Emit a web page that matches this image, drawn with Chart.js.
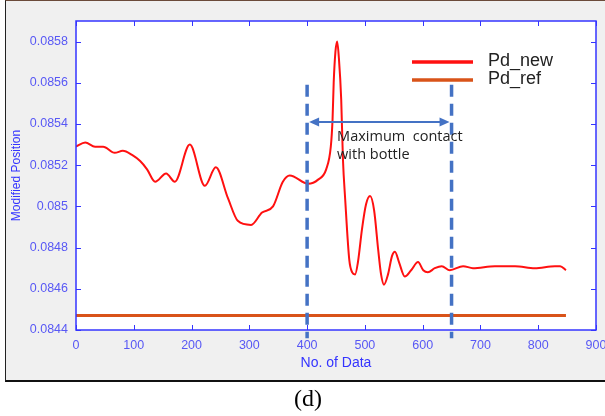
<!DOCTYPE html>
<html>
<head>
<meta charset="utf-8">
<script src="https://cdn.jsdelivr.net/npm/chart.js@4"></script>
<style>
  html, body { margin: 0; padding: 0; background: #fff; }
  body { width: 605px; height: 416px; position: relative; overflow: hidden; }
  #panel { position: absolute; left: 5px; top: 0; width: 610px; height: 382px; background: #f0f0f0;
           border-left: 1.5px solid #222; border-top: 1px solid #6b4a3a; border-bottom: 2px solid #111; box-sizing: border-box; }
  #cv { position: absolute; left: 0; top: 0; }
  #cap { position: absolute; left: 0; width: 616px; top: 383px; text-align: center;
         font: 24px "Liberation Serif", serif; line-height: 30px; color: #000; }
</style>
</head>
<body>
<div id="panel"></div>
<canvas id="cv" width="605" height="416"></canvas>
<div id="cap">(d)</div>
<script>
// Pd_new curve
const newX = [0, 16, 33, 47, 67, 81, 97, 111, 123, 137, 156, 171, 197, 223, 242, 263, 280, 303, 322, 341,
  358, 370, 402, 419, 433, 441, 444, 446, 449, 452, 455, 459, 462, 466, 473, 478, 483, 488, 495, 502,
  509, 516, 523, 528, 533, 540, 547, 552, 559, 569, 580, 592, 601, 609, 621, 633, 647, 670, 687, 725,
  760, 794, 829, 838, 848];
const newY = [0.08529, 0.08531, 0.08529, 0.08529, 0.08526, 0.08527, 0.08525, 0.08522, 0.08518, 0.08512,
  0.08516, 0.08512, 0.08530, 0.08510, 0.08519, 0.08504, 0.08493, 0.08491, 0.08497, 0.08500,
  0.08512, 0.08515, 0.08511, 0.08513, 0.08518, 0.08529, 0.08542, 0.08560, 0.08575, 0.08580,
  0.08572, 0.08552, 0.08523, 0.08503, 0.08474, 0.08468, 0.08467, 0.08473, 0.08489, 0.08501,
  0.08505, 0.08498, 0.08479, 0.08467, 0.08462, 0.08467, 0.08476, 0.08478, 0.08473, 0.08466,
  0.08469, 0.08473, 0.08469, 0.08468, 0.08470, 0.08471, 0.08469, 0.08471, 0.08470, 0.08471,
  0.08471, 0.08470, 0.08471, 0.08471, 0.08469];

// Pd_ref (flat)
const refX = [0, 848];
const refY = [0.08447, 0.08447];

const xTicks = [0, 100, 200, 300, 400, 500, 600, 700, 800, 900];
const yTicks = [0.0844, 0.0846, 0.0848, 0.085, 0.0852, 0.0854, 0.0856, 0.0858];

// "Maximum contact with bottle" window
const contactX = [400, 650];
const contactTop = 0.08559;
const contactBottom = 0.08436;
const arrowY = 0.08541;

const axisBlue = '#3434ff';
const labelBlue = '#5858f5';
const annBlue = '#4472c4';
const sans = '"Liberation Sans", Arial, sans-serif';

const figureDecor = {
  id: 'figureDecor',
  beforeDatasetsDraw(chart) {
    const { ctx, chartArea: a } = chart;
    ctx.save();
    ctx.fillStyle = '#fff';
    ctx.fillRect(a.left, a.top, a.right - a.left, a.bottom - a.top);
    ctx.restore();
  },
  afterDatasetsDraw(chart) {
    const { ctx, chartArea: a, scales: { x, y } } = chart;
    ctx.save();

    // dashed window lines
    ctx.strokeStyle = annBlue;
    ctx.lineWidth = 3.5;
    ctx.setLineDash([12, 7]);
    contactX.forEach(v => {
      const px = x.getPixelForValue(v);
      ctx.beginPath();
      ctx.moveTo(px, y.getPixelForValue(contactTop));
      ctx.lineTo(px, y.getPixelForValue(contactBottom));
      ctx.stroke();
    });
    ctx.setLineDash([]);

    // double arrow
    const ay = y.getPixelForValue(arrowY);
    const x1 = x.getPixelForValue(contactX[0]) + 2;
    const x2 = x.getPixelForValue(contactX[1]) - 2;
    ctx.lineWidth = 2;
    ctx.beginPath();
    ctx.moveTo(x1 + 6, ay);
    ctx.lineTo(x2 - 6, ay);
    ctx.stroke();
    ctx.fillStyle = annBlue;
    ctx.beginPath();
    ctx.moveTo(x1, ay); ctx.lineTo(x1 + 10, ay - 4.5); ctx.lineTo(x1 + 10, ay + 4.5); ctx.closePath();
    ctx.moveTo(x2, ay); ctx.lineTo(x2 - 10, ay - 4.5); ctx.lineTo(x2 - 10, ay + 4.5); ctx.closePath();
    ctx.fill();

    // annotation text
    ctx.fillStyle = '#222';
    ctx.font = '14.5px "Open Sans", sans-serif';
    ctx.textBaseline = 'middle';
    ctx.textAlign = 'left';
    ctx.fillText('Maximum  contact', x1 + 28, ay + 15);
    ctx.fillText('with bottle', x1 + 28, ay + 33);

    // legend
    const sets = chart.data.datasets;
    ctx.font = '18px ' + sans;
    sets.forEach((ds, i) => {
      const ly = 62 + i * 18;
      ctx.strokeStyle = ds.borderColor;
      ctx.lineWidth = 3.5;
      ctx.beginPath();
      ctx.moveTo(412, ly);
      ctx.lineTo(473, ly);
      ctx.stroke();
      ctx.fillStyle = '#222';
      ctx.fillText(ds.label, 488, ly - 1);
    });
    ctx.restore();
  },
  afterDraw(chart) {
    const { ctx, chartArea: a, scales: { x, y } } = chart;
    ctx.save();
    ctx.strokeStyle = axisBlue;
    ctx.lineWidth = 1;
    xTicks.forEach(v => {
      const px = Math.round(x.getPixelForValue(v)) + 0.5;
      ctx.beginPath();
      ctx.moveTo(px, a.bottom); ctx.lineTo(px, a.bottom - 5);
      ctx.moveTo(px, a.top); ctx.lineTo(px, a.top + 5);
      ctx.stroke();
    });
    yTicks.forEach(v => {
      const py = Math.round(y.getPixelForValue(v)) + 0.5;
      ctx.beginPath();
      ctx.moveTo(a.left, py); ctx.lineTo(a.left + 5, py);
      ctx.moveTo(a.right, py); ctx.lineTo(a.right - 5, py);
      ctx.stroke();
    });
    ctx.lineWidth = 1.5;
    ctx.strokeRect(a.left, a.top, a.right - a.left, a.bottom - a.top);
    ctx.restore();
  }
};

new Chart(document.getElementById('cv'), {
  type: 'line',
  data: {
    datasets: [
      {
        label: 'Pd_new',
        data: newX.map((v, i) => ({ x: v, y: newY[i] })),
        borderColor: '#ff1010',
        borderWidth: 2,
        pointRadius: 0,
        tension: 0.4,
        cubicInterpolationMode: 'monotone',
        fill: false
      },
      {
        label: 'Pd_ref',
        data: refX.map((v, i) => ({ x: v, y: refY[i] })),
        borderColor: '#d95319',
        borderWidth: 3,
        pointRadius: 0,
        fill: false
      }
    ]
  },
  options: {
    responsive: false,
    animation: false,
    devicePixelRatio: 1,
    layout: { padding: { top: 21, right: 9, left: 0, bottom: 0 } },
    plugins: { legend: { display: false }, tooltip: { enabled: false } },
    scales: {
      x: {
        type: 'linear',
        min: 0,
        max: 900,
        afterBuildTicks: s => { s.ticks = xTicks.map(v => ({ value: v })); },
        afterFit: s => { s.height = 86; s.paddingLeft = 0; s.paddingRight = 0; },
        grid: { display: false, drawTicks: false },
        border: { display: false },
        ticks: { padding: 8, color: labelBlue, font: { family: sans, size: 12.5 }, maxRotation: 0, autoSkip: false,
                 callback: v => String(v) },
        title: { display: true, text: 'No. of Data', color: axisBlue, font: { family: sans, size: 14 },
                 padding: { top: 0, bottom: 44 } }
      },
      y: {
        type: 'linear',
        min: 0.0844,
        max: 0.0859,
        afterBuildTicks: s => { s.ticks = yTicks.map(v => ({ value: v })); },
        afterFit: s => { s.width = 76; s.paddingTop = 0; s.paddingBottom = 0; },
        grid: { display: false, drawTicks: false },
        border: { display: false },
        ticks: { padding: 8, color: labelBlue, font: { family: sans, size: 12.5 }, autoSkip: false,
                 callback: v => String(v) },
        title: { display: true, text: 'Modified Position', color: axisBlue, font: { family: sans, size: 12 },
                 padding: { top: 9, bottom: 0 } }
      }
    }
  },
  plugins: [figureDecor]
});
</script>
</body>
</html>
